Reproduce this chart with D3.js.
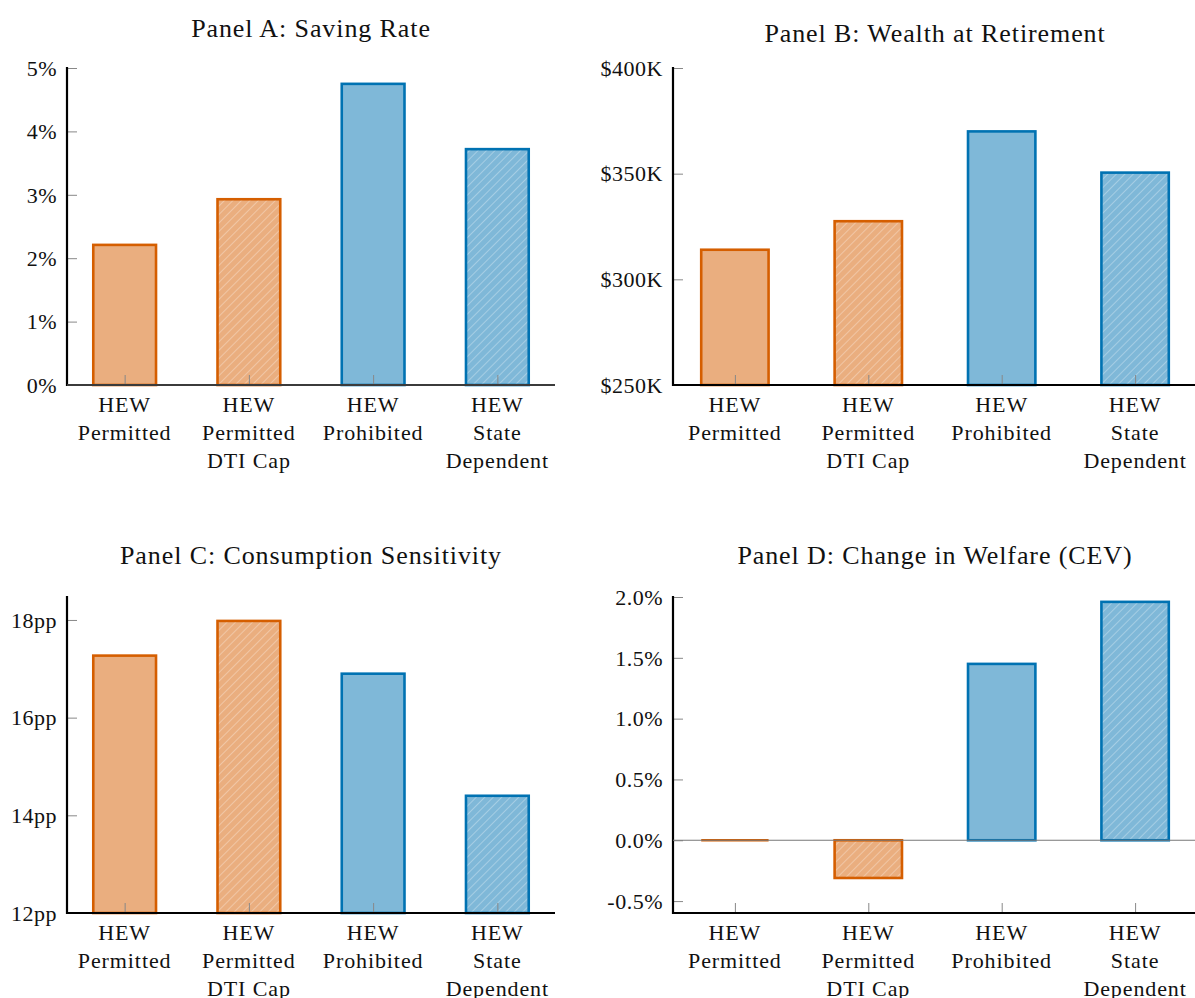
<!DOCTYPE html>
<html>
<head>
<meta charset="utf-8">
<script src="https://cdn.jsdelivr.net/npm/d3@7"></script>
<style>
  html, body { margin: 0; padding: 0; background: #fff; }
  svg text { font-family: "Liberation Serif", "DejaVu Serif", serif; fill: #111; }
</style>
</head>
<body>
<svg id="chart" width="1195" height="998"></svg>
<script>
// Scenario labels (multi-line)
const categories = [
  ["HEW", "Permitted"],
  ["HEW", "Permitted", "DTI Cap"],
  ["HEW", "Prohibited"],
  ["HEW", "State", "Dependent"]
];
const scenarioGroup = ["orange", "orange", "blue", "blue"];
const scenarioHatched = [false, true, false, true];

// Outcome values per scenario
const savingRate = [2.21, 2.93, 4.75, 3.72];                 // percent
const wealthAtRetirement = [314, 327.5, 370, 350.5];         // $ thousands
const consumptionSensitivity = [17.27, 17.98, 16.90, 14.40]; // pp
const welfareCEV = [0.00, -0.31, 1.45, 1.96];                // percent

// Tick values and labels
const ticksA = [0, 1, 2, 3, 4, 5];
const tickLabelsA = ["0%", "1%", "2%", "3%", "4%", "5%"];
const ticksB = [250, 300, 350, 400];
const tickLabelsB = ["$250K", "$300K", "$350K", "$400K"];
const ticksC = [12, 14, 16, 18];
const tickLabelsC = ["12pp", "14pp", "16pp", "18pp"];
const ticksD = [-0.5, 0, 0.5, 1.0, 1.5, 2.0];
const tickLabelsD = ["-0.5%", "0.0%", "0.5%", "1.0%", "1.5%", "2.0%"];

const colors = {
  orange: "#D55E00",
  blue: "#0072B2"
};

const svg = d3.select("#chart");
const defs = svg.append("defs");

// White diagonal hatch overlay
const pat = defs.append("pattern")
  .attr("id", "hatch")
  .attr("patternUnits", "userSpaceOnUse")
  .attr("width", 6).attr("height", 6)
  .attr("patternTransform", "rotate(45)");
pat.append("line")
  .attr("x1", 0).attr("y1", 0).attr("x2", 0).attr("y2", 6)
  .attr("stroke", "#fff").attr("stroke-width", 1.1).attr("stroke-opacity", 0.55);

function drawPanel(cfg) {
  const { title, titleY, left, right, top, bottom, domain, values, ticks, tickLabels, zeroLine } = cfg;
  const g = svg.append("g");

  const y = d3.scaleLinear().domain(domain).range([bottom, top]);
  const x = d3.scalePoint()
    .domain(d3.range(categories.length))
    .range([left, right])
    .padding(0.464);
  const step = x.step();
  const barW = step * 0.505;

  // Title
  g.append("text")
    .attr("x", (left + right) / 2)
    .attr("y", titleY)
    .attr("text-anchor", "middle")
    .attr("font-size", 26)
    .attr("letter-spacing", 0.9)
    .text(title);

  // Bars
  const bars = g.append("g");
  values.forEach((v, i) => {
    const y0 = domain[0] > 0 ? y(domain[0]) : y(0);
    const y1 = y(v);
    const rx = x(i) - barW / 2;
    const ry = Math.min(y0, y1);
    const rh = Math.abs(y1 - y0);
    const col = colors[scenarioGroup[i]];
    if (rh < 0.5) {
      // zero-valued bar collapses to a flat outline
      bars.append("line")
        .attr("x1", rx).attr("x2", rx + barW)
        .attr("y1", y1).attr("y2", y1)
        .attr("stroke", col).attr("stroke-width", 2.6);
      return;
    }
    bars.append("rect")
      .attr("x", rx).attr("y", ry).attr("width", barW).attr("height", rh)
      .attr("fill", col).attr("fill-opacity", 0.5);
    if (scenarioHatched[i]) {
      bars.append("rect")
        .attr("x", rx).attr("y", ry).attr("width", barW).attr("height", rh)
        .attr("fill", "url(#hatch)");
    }
    bars.append("rect")
      .attr("x", rx).attr("y", ry).attr("width", barW).attr("height", rh)
      .attr("fill", "none").attr("stroke", col).attr("stroke-width", 2.6);
  });

  // Y axis ticks (inward) and labels
  const yAxis = d3.axisRight(y)
    .tickValues(ticks)
    .tickSize(10)
    .tickFormat("");
  const ya = g.append("g").attr("transform", `translate(${left},0)`).call(yAxis);
  ya.select(".domain").remove();
  ya.selectAll(".tick line").attr("stroke", "#888").attr("stroke-width", 1);

  ticks.forEach((t, i) => {
    g.append("text")
      .attr("x", left - 10)
      .attr("y", y(t))
      .attr("dy", "0.35em")
      .attr("text-anchor", "end")
      .attr("font-size", 22)
      .attr("letter-spacing", 0.5)
      .text(tickLabels[i]);
  });

  // Category ticks (inward from bottom)
  const xAxis = d3.axisTop(x).tickSize(10).tickFormat("");
  const xa = g.append("g").attr("transform", `translate(0,${bottom})`).call(xAxis);
  xa.select(".domain").remove();
  xa.selectAll(".tick line").attr("stroke", "#888").attr("stroke-width", 1);

  // Category labels
  categories.forEach((lines, i) => {
    const t = g.append("text")
      .attr("text-anchor", "middle")
      .attr("font-size", 22)
      .attr("letter-spacing", 0.9);
    lines.forEach((ln, k) => {
      t.append("tspan")
        .attr("x", x(i))
        .attr("y", bottom + 27 + k * 28)
        .text(ln);
    });
  });

  // Axis lines
  g.append("line")
    .attr("x1", left).attr("x2", left)
    .attr("y1", top - 1).attr("y2", bottom + 1)
    .attr("stroke", "#000").attr("stroke-width", 2.2);
  g.append("line")
    .attr("x1", left - 1).attr("x2", right)
    .attr("y1", bottom).attr("y2", bottom)
    .attr("stroke", "#000").attr("stroke-width", 2.2);

  if (zeroLine) {
    g.append("line")
      .attr("x1", left).attr("x2", right)
      .attr("y1", y(0)).attr("y2", y(0))
      .attr("stroke", "#777").attr("stroke-width", 1.2);
  }
}

drawPanel({
  title: "Panel A: Saving Rate", titleY: 37,
  left: 67, right: 555, top: 68, bottom: 385,
  domain: [0, 5], values: savingRate,
  ticks: ticksA, tickLabels: tickLabelsA, zeroLine: true
});
drawPanel({
  title: "Panel B: Wealth at Retirement", titleY: 42,
  left: 673, right: 1197, top: 68, bottom: 385,
  domain: [250, 400], values: wealthAtRetirement,
  ticks: ticksB, tickLabels: tickLabelsB, zeroLine: false
});
drawPanel({
  title: "Panel C: Consumption Sensitivity", titleY: 564,
  left: 67, right: 555, top: 597, bottom: 913,
  domain: [12, 18.47], values: consumptionSensitivity,
  ticks: ticksC, tickLabels: tickLabelsC, zeroLine: false
});
drawPanel({
  title: "Panel D: Change in Welfare (CEV)", titleY: 564,
  left: 673, right: 1197, top: 597, bottom: 913,
  domain: [-0.598, 2.0], values: welfareCEV,
  ticks: ticksD, tickLabels: tickLabelsD, zeroLine: true
});
</script>
</body>
</html>
